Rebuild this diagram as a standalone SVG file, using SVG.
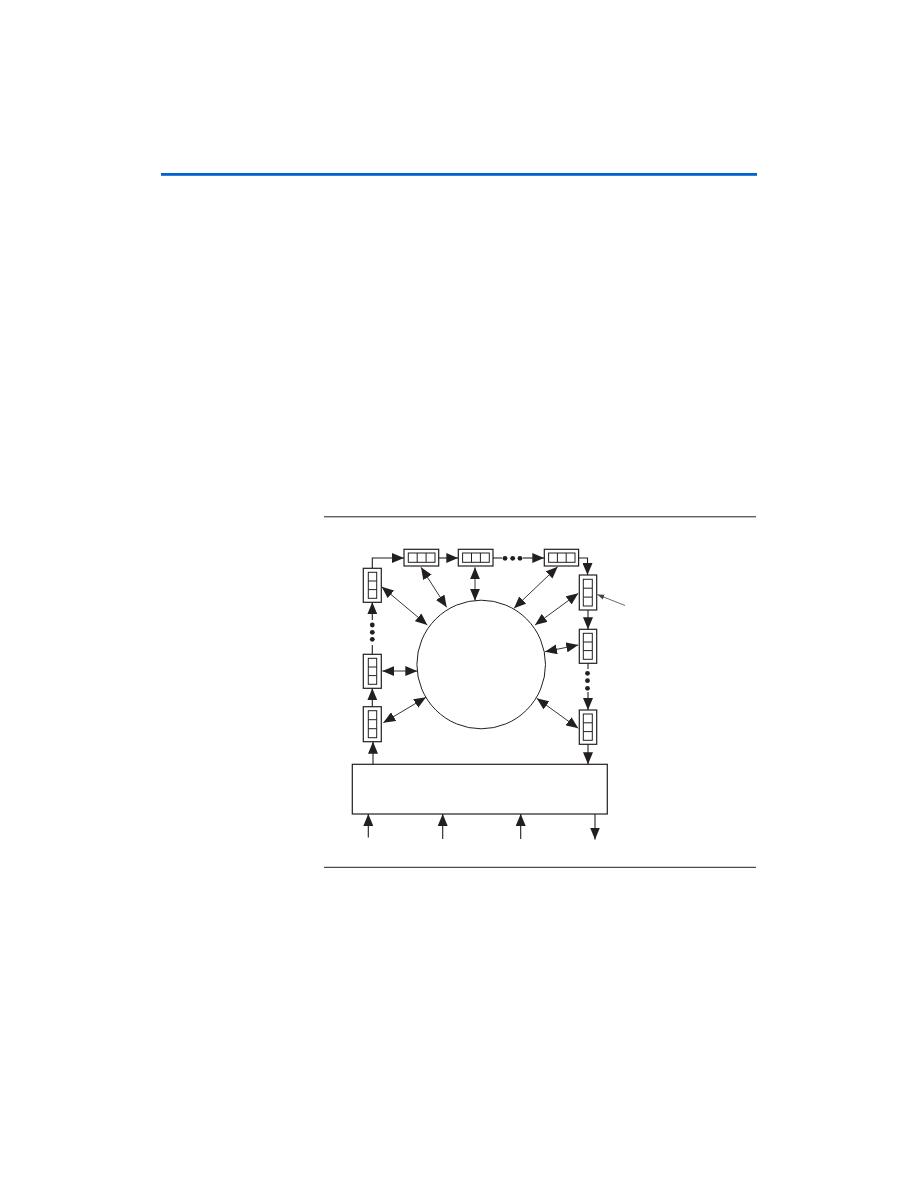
<svg xmlns="http://www.w3.org/2000/svg" width="918" height="1188" viewBox="0 0 918 1188">
<style>
.bx{fill:#fff;stroke:#231f20;stroke-width:1.2}
.in{fill:none;stroke:#231f20;stroke-width:1}
.ln{fill:none;stroke:#231f20;stroke-width:1.1}
.dg{fill:none;stroke:#231f20;stroke-width:0.9}
.dot{fill:#231f20}
</style>
<defs>
<marker id="ah" markerWidth="12" markerHeight="10" refX="12" refY="5" orient="auto" markerUnits="userSpaceOnUse" viewBox="0 0 12 10">
<path d="M0,0 L12,5 L0,10 Z" fill="#231f20"/>
</marker>
<marker id="as" markerWidth="12" markerHeight="10" refX="0" refY="5" orient="auto" markerUnits="userSpaceOnUse" viewBox="0 0 12 10">
<path d="M12,0 L0,5 L12,10 Z" fill="#231f20"/>
</marker>
<marker id="ap" markerWidth="8" markerHeight="6" refX="7" refY="2.5" orient="auto" markerUnits="userSpaceOnUse" viewBox="0 0 8 5">
<path d="M0,0 L7,2.5 L0,5 Z" fill="#444"/>
</marker>
</defs>
<rect x="161" y="173" width="596" height="2.8" fill="#0063cc"/>
<line x1="324" y1="516.8" x2="756" y2="516.8" stroke="#231f20" stroke-width="1"/>
<line x1="324" y1="867.3" x2="756" y2="867.3" stroke="#231f20" stroke-width="1"/>

<g id="ring">
<circle cx="481.2" cy="664.5" r="64.3" fill="#fff" stroke="#231f20" stroke-width="1"/>
</g>

<g id="top1"><rect class="bx" x="404" y="549.3" width="34.7" height="16.7"/><rect class="in" x="408.3" y="553" width="26.7" height="9.3"/><line class="in" x1="417.2" y1="553" x2="417.2" y2="562.3"/><line class="in" x1="426.1" y1="553" x2="426.1" y2="562.3"/></g>
<g id="top2"><rect class="bx" x="458.3" y="549.3" width="34.7" height="16.7"/><rect class="in" x="462.6" y="553" width="26.7" height="9.3"/><line class="in" x1="471.5" y1="553" x2="471.5" y2="562.3"/><line class="in" x1="480.4" y1="553" x2="480.4" y2="562.3"/></g>
<g id="top3"><rect class="bx" x="544.3" y="549.3" width="34.3" height="16.7"/><rect class="in" x="548.6" y="553" width="26.4" height="9.3"/><line class="in" x1="557.4" y1="553" x2="557.4" y2="562.3"/><line class="in" x1="566.2" y1="553" x2="566.2" y2="562.3"/></g>

<g id="left1"><rect class="bx" x="363.3" y="568.3" width="18" height="34"/><rect class="in" x="368.3" y="572.3" width="8.4" height="26"/><line class="in" x1="368.3" y1="581" x2="376.7" y2="581"/><line class="in" x1="368.3" y1="589.6" x2="376.7" y2="589.6"/></g>
<g id="left2"><rect class="bx" x="363.3" y="654.3" width="18" height="34"/><rect class="in" x="368.3" y="658.3" width="8.4" height="26"/><line class="in" x1="368.3" y1="667" x2="376.7" y2="667"/><line class="in" x1="368.3" y1="675.6" x2="376.7" y2="675.6"/></g>
<g id="left3"><rect class="bx" x="363.3" y="706.7" width="18" height="35"/><rect class="in" x="368.3" y="710.7" width="8.4" height="27"/><line class="in" x1="368.3" y1="719.7" x2="376.7" y2="719.7"/><line class="in" x1="368.3" y1="728.7" x2="376.7" y2="728.7"/></g>

<g id="right1"><rect class="bx" x="579.3" y="575" width="17.4" height="35"/><rect class="in" x="583.3" y="579.3" width="9" height="26.7"/><line class="in" x1="583.3" y1="588.2" x2="592.3" y2="588.2"/><line class="in" x1="583.3" y1="597.1" x2="592.3" y2="597.1"/></g>
<g id="right2"><rect class="bx" x="579.3" y="629.3" width="17.4" height="34"/><rect class="in" x="583.3" y="633.3" width="9" height="26"/><line class="in" x1="583.3" y1="642" x2="592.3" y2="642"/><line class="in" x1="583.3" y1="650.6" x2="592.3" y2="650.6"/></g>
<g id="right3"><rect class="bx" x="579.3" y="710" width="17.4" height="34.3"/><rect class="in" x="583.3" y="714" width="9" height="26.3"/><line class="in" x1="583.3" y1="722.8" x2="592.3" y2="722.8"/><line class="in" x1="583.3" y1="731.6" x2="592.3" y2="731.6"/></g>

<g id="block"><rect x="352.3" y="764.3" width="255" height="49.7" fill="#fff" stroke="#231f20" stroke-width="1.2"/></g>

<g id="connectors">
<path class="ln" d="M372.3,568.3 V558 H404" marker-end="url(#ah)"/>
<line class="ln" x1="438.7" y1="558" x2="458.3" y2="558" marker-end="url(#ah)"/>
<line class="ln" x1="493" y1="558" x2="502" y2="558"/>
<line class="ln" x1="523" y1="558" x2="544.3" y2="558" marker-end="url(#ah)"/>
<path class="ln" d="M578.6,558 H587.5 V575" marker-end="url(#ah)"/>
<line class="ln" x1="588" y1="610" x2="588" y2="629.3" marker-end="url(#ah)"/>
<line class="ln" x1="588" y1="663.3" x2="588" y2="669"/>
<line class="ln" x1="588" y1="692" x2="588" y2="710" marker-end="url(#ah)"/>
<line class="ln" x1="588" y1="744.3" x2="588" y2="764.3" marker-end="url(#ah)"/>
<line class="ln" x1="373" y1="764.3" x2="373" y2="741.7" marker-end="url(#ah)"/>
<line class="ln" x1="372.3" y1="706.7" x2="372.3" y2="688.3" marker-end="url(#ah)"/>
<line class="ln" x1="372.3" y1="654.3" x2="372.3" y2="645"/>
<line class="ln" x1="372.3" y1="620" x2="372.3" y2="602.3" marker-end="url(#ah)"/>
<circle class="dot" cx="512.7" cy="558.3" r="2.4"/><circle class="dot" cx="505" cy="558.3" r="2.4"/><circle class="dot" cx="520" cy="558.3" r="2.4"/>
<circle class="dot" cx="587.5" cy="673.3" r="2.4"/><circle class="dot" cx="587.5" cy="680.7" r="2.4"/><circle class="dot" cx="587.5" cy="688.3" r="2.4"/>
<circle class="dot" cx="372.3" cy="625" r="2.4"/><circle class="dot" cx="372.3" cy="632.3" r="2.4"/><circle class="dot" cx="372.3" cy="639.3" r="2.4"/>

<line class="dg" x1="381.7" y1="586.7" x2="427.3" y2="625" marker-start="url(#as)" marker-end="url(#ah)"/>
<line class="dg" x1="421" y1="567.3" x2="446.7" y2="607.3" marker-start="url(#as)" marker-end="url(#ah)"/>
<line class="dg" x1="475" y1="567.3" x2="475" y2="600.7" marker-start="url(#as)" marker-end="url(#ah)"/>
<line class="dg" x1="557.7" y1="566.7" x2="514" y2="608.3" marker-start="url(#as)" marker-end="url(#ah)"/>
<line class="dg" x1="578.3" y1="593.3" x2="535" y2="625" marker-start="url(#as)" marker-end="url(#ah)"/>
<line class="dg" x1="578.3" y1="645" x2="545" y2="651.7" marker-start="url(#as)" marker-end="url(#ah)"/>
<line class="dg" x1="578.3" y1="728.3" x2="536.7" y2="698.3" marker-start="url(#as)" marker-end="url(#ah)"/>
<line class="dg" x1="382.3" y1="671" x2="417.3" y2="671" marker-start="url(#as)" marker-end="url(#ah)"/>
<line class="dg" x1="383.3" y1="722.7" x2="426" y2="697.3" marker-start="url(#as)" marker-end="url(#ah)"/>

<line x1="625" y1="605.5" x2="597.3" y2="594.5" stroke="#444" stroke-width="0.8" marker-end="url(#ap)"/>

<line class="ln" x1="368.3" y1="837.5" x2="368.3" y2="814" marker-end="url(#ah)"/>
<line class="ln" x1="442.7" y1="839" x2="442.7" y2="814" marker-end="url(#ah)"/>
<line class="ln" x1="520.7" y1="839" x2="520.7" y2="814" marker-end="url(#ah)"/>
<line class="ln" x1="595" y1="814" x2="595" y2="839.5" marker-end="url(#ah)"/>
</g>
</svg>
